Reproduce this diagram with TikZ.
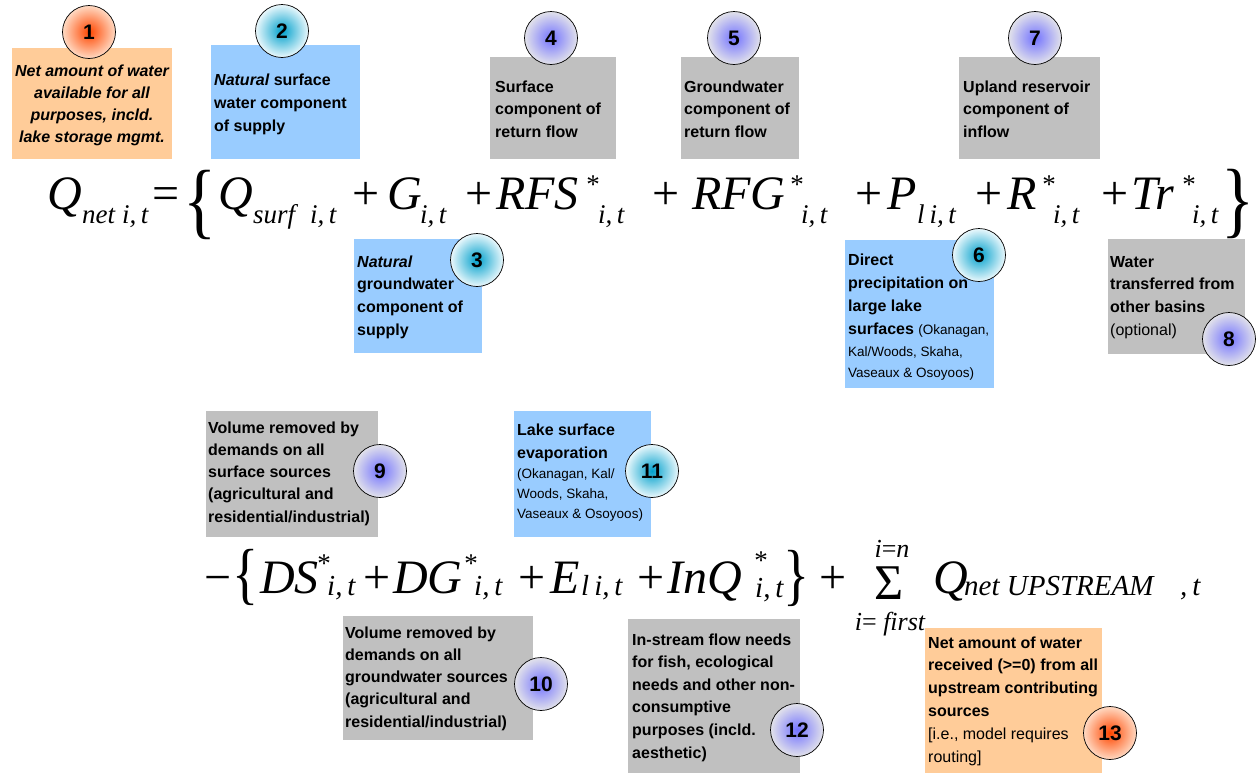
\documentclass[tikz,border=0pt]{standalone}
\usepackage{fontspec}
\setmainfont{Liberation Sans}
\newfontfamily\tms{Liberation Serif}
\definecolor{bgray}{RGB}{192,192,192}
\definecolor{bblue}{RGB}{153,204,255}
\definecolor{borange}{RGB}{255,204,153}
\definecolor{orin}{RGB}{255,70,0}
\definecolor{orout}{RGB}{255,218,195}
\definecolor{cyin}{RGB}{0,160,204}
\definecolor{cyout}{RGB}{235,248,252}
\definecolor{puin}{RGB}{115,115,255}
\definecolor{puout}{RGB}{226,226,234}
\newcommand\smr{\mdseries\fontsize{13.5}{16}\selectfont}
\newcommand\bx[6]{\node[boxn, fill=#2, minimum width={#5-#3}, minimum height={#6-#4}] (#1) at (#3,#4) {};}
\tikzset{
 boxn/.style={draw=none, inner sep=0, outer sep=0, anchor=north west},
 num/.style={circle, draw=black, line width=0.7pt, minimum size=53, inner sep=0, font=\bfseries\fontsize{21}{21}\selectfont},
 orc/.style={num, inner color=orin, outer color=orout},
 cyc/.style={num, inner color=cyin, outer color=cyout},
 puc/.style={num, inner color=puin, outer color=puout},
 bt/.style={font=\bfseries\fontsize{16}{19}\selectfont, inner sep=0, anchor=base west},
 bti/.style={font=\bfseries\itshape\fontsize{16}{19}\selectfont, inner sep=0, anchor=base},
 eqi/.style={font=\tms\itshape\fontsize{48}{48}\selectfont, inner sep=0, anchor=base west},
 eqr/.style={font=\tms\fontsize{48}{48}\selectfont, inner sep=0, anchor=base west},
 sbi/.style={font=\tms\itshape\fontsize{27}{27}\selectfont, inner sep=0, anchor=base west},
 sbj/.style={font=\tms\itshape\fontsize{29}{29}\selectfont, inner sep=0, anchor=base west},
 st/.style={font=\tms\fontsize{27}{27}\selectfont, inner sep=0, anchor=base},
 brc/.style={font=\tms\fontsize{84}{84}\selectfont, inner sep=0, anchor=center},
 brcb/.style={font=\tms\fontsize{68}{68}\selectfont, inner sep=0, anchor=center},
 sig/.style={font=\tms\fontsize{50}{50}\selectfont, inner sep=0, anchor=center},
 lim/.style={font=\tms\fontsize{26}{26}\selectfont, inner sep=0, anchor=center},
}
\begin{document}
\begin{tikzpicture}[x=1pt,y=-1pt]
\useasboundingbox (0,0) rectangle (1257,774);
\fill[white] (0,0) rectangle (1257,774);
% boxes
\bx{b1}{borange}{12}{48}{172}{159}
\bx{b2}{bblue}{211}{45}{360}{159}
\bx{b4}{bgray}{490}{57}{616}{159}
\bx{b5}{bgray}{681}{57}{799}{159}
\bx{b7}{bgray}{959}{57}{1100}{159}
\bx{b3}{bblue}{354}{239}{482}{353}
\bx{b6}{bblue}{845}{240}{994}{388}
\bx{b8}{bgray}{1108}{239}{1245}{354}
\bx{b9}{bgray}{206}{411}{378}{537}
\bx{b11}{bblue}{514}{411}{651}{537}
\bx{b10}{bgray}{343}{616}{533}{740}
\bx{b12}{bgray}{628}{619}{800}{773}
\bx{b13}{borange}{925}{628}{1102}{773}
% box texts
\foreach \t [count=\i] in {Net amount of water, available for all, {purposes, incld.}, lake storage mgmt.}
  \node[bti] (t1-\i) at (92,{76+22*(\i-1)}) {\t};
\foreach \t [count=\i] in {{\itshape Natural} surface, water component, of supply}
  \node[bt] (t2-\i) at (214,{85+23*(\i-1)}) {\t};
\foreach \t [count=\i] in {Surface, component of, return flow}
  \node[bt] (t4-\i) at (495,{92+22.5*(\i-1)}) {\t};
\foreach \t [count=\i] in {Groundwater, component of, return flow}
  \node[bt] (t5-\i) at (684,{92+22.5*(\i-1)}) {\t};
\foreach \t [count=\i] in {Upland reservoir, component of, inflow}
  \node[bt] (t7-\i) at (963,{92+22.5*(\i-1)}) {\t};
\foreach \t [count=\i] in {{\itshape Natural}, groundwater, component of, supply}
  \node[bt] (t3-\i) at (357,{267+22.7*(\i-1)}) {\t};
\node[bt] (t6-1) at (848,265) {Direct};
\node[bt] (t6-2) at (848,288) {precipitation on};
\node[bt] (t6-3) at (848,311) {large lake};
\node[bt] (t6-4) at (848,334) {surfaces {\smr(Okanagan,}};
\node[bt] (t6-5) at (848,356) {\smr Kal/Woods, Skaha,};
\node[bt] (t6-6) at (848,377) {\smr Vaseaux \& Osoyoos)};
\foreach \t [count=\i] in {Water, transferred from, other basins, {\mdseries (optional)}}
  \node[bt] (t8-\i) at (1110,{267+22.7*(\i-1)}) {\t};
\foreach \t [count=\i] in {Volume removed by, demands on all, surface sources, {\relax(agricultural and}, residential/industrial)}
  \node[bt] (t9-\i) at (208,{433+22.3*(\i-1)}) {\t};
\node[bt] (t11-1) at (517,435) {Lake surface};
\node[bt] (t11-2) at (517,458) {evaporation};
\node[bt] (t11-3) at (517,478) {\smr (Okanagan, Kal/};
\node[bt] (t11-4) at (517,498) {\smr Woods, Skaha,};
\node[bt] (t11-5) at (517,518) {\smr Vaseaux \& Osoyoos)};
\foreach \t [count=\i] in {Volume removed by, demands on all, groundwater sources, {\relax(agricultural and}, residential/industrial)}
  \node[bt] (t10-\i) at (345,{638+22.3*(\i-1)}) {\t};
\foreach \t [count=\i] in {In-stream flow needs, {for fish, ecological}, needs and other non-, consumptive, purposes (incld., aesthetic)}
  \node[bt] (t12-\i) at (632,{645+22.6*(\i-1)}) {\t};
\foreach \t [count=\i] in {Net amount of water, received (>=0) from all, upstream contributing, sources, {\mdseries [i.e., model requires}, {\mdseries routing]}}
  \node[bt] (t13-\i) at (928,{648+22.8*(\i-1)}) {\t};
% circles
\node[orc] (c1) at (89,32) {1};
\node[cyc] (c2) at (282,31) {2};
\node[puc] (c4) at (551,38) {4};
\node[puc] (c5) at (734,38) {5};
\node[puc] (c7) at (1035,38) {7};
\node[cyc] (c3) at (477,260) {3};
\node[cyc] (c6) at (979,255) {6};
\node[puc] (c8) at (1229,339) {8};
\node[puc] (c9) at (380,471) {9};
\node[cyc] (c11) at (652,471) {11};
\node[puc] (c10) at (541,684) {10};
\node[puc] (c12) at (797,730) {12};
\node[orc] (c13) at (1110,733) {13};
% equation line 1
\def\Ba{209}\def\Sa{223}\def\Ta{193}
\node[eqi] (a1) at (47,\Ba) {Q};
\node[sbi] (a2) at (82,\Sa) {net};
\node[sbi] (a3) at (122,\Sa) {i,\,t};
\node[eqr] (a4) at (152,\Ba) {=};
\node[brc] (a5) at (200,205) {\scalebox{0.82}[1]{\{}};
\node[eqi] (a6) at (218,\Ba) {Q};
\node[sbi] (a7) at (253,\Sa) {surf};
\node[sbi] (a8) at (310,\Sa) {i,\,t};
\node[eqr] (a9) at (352,\Ba) {+};
\node[eqi] (a10) at (387,\Ba) {G};
\node[sbi] (a11) at (420,\Sa) {i,\,t};
\node[eqr] (a12) at (465,\Ba) {+};
\node[eqi] (a13) at (496,\Ba) {RFS};
\node[st] (a14) at (593,\Ta) {*};
\node[sbi] (a15) at (598,\Sa) {i,\,t};
\node[eqr] (a16) at (652,\Ba) {+};
\node[eqi] (a17) at (692,\Ba) {RFG};
\node[st] (a18) at (797,\Ta) {*};
\node[sbi] (a19) at (801,\Sa) {i,\,t};
\node[eqr] (a20) at (855,\Ba) {+};
\node[eqi] (a21) at (887,\Ba) {P};
\node[sbi] (a22) at (917,\Sa) {l\hspace{5pt}i,\,t};
\node[eqr] (a23) at (975,\Ba) {+};
\node[eqi] (a24) at (1007,\Ba) {R};
\node[st] (a25) at (1049,\Ta) {*};
\node[sbi] (a26) at (1053,\Sa) {i,\,t};
\node[eqr] (a27) at (1101,\Ba) {+};
\node[eqi] (a28) at (1131,\Ba) {Tr};
\node[st] (a29) at (1189,\Ta) {*};
\node[sbi] (a30) at (1192,\Sa) {i,\,t};
\node[brc] (a31) at (1238,204) {\scalebox{0.82}[1]{\}}};
% equation line 2
\def\Bb{593}\def\Sb{595}\def\Tb{572}
\node[eqr] (e1) at (204,\Bb) {−};
\node[brcb] (e2) at (246,577) {\scalebox{0.8}[1]{\{}};
\node[eqi] (e3) at (260,\Bb) {DS};
\node[st] (e4) at (324,\Tb) {*};
\node[sbj] (e5) at (327,\Sb) {i,\,t};
\node[eqr] (e6) at (363,\Bb) {+};
\node[eqi] (e7) at (393,\Bb) {DG};
\node[st] (e8) at (471,\Tb) {*};
\node[sbj] (e9) at (474,\Sb) {i,\,t};
\node[eqr] (e10) at (518,\Bb) {+};
\node[eqi] (e11) at (550,\Bb) {E};
\node[sbj] (e12) at (581,\Sb) {l\hspace{5pt}i,\,t};
\node[eqr] (e13) at (637,\Bb) {+};
\node[eqi] (e14) at (667,\Bb) {InQ};
\node[st] (e15) at (761,569) {*};
\node[sbj] (e16) at (755,597) {i,\,t};
\node[brcb] (e17) at (797,578) {\scalebox{0.8}[1]{\}}};
\node[eqr] (e18) at (819,\Bb) {+};
\node[sig] (e19) at (889,583) {Σ};
\node[lim] (e20) at (892,549) {{\itshape i}={\itshape n}};
\node[lim] (e21) at (890,624) {{\itshape i}= {\itshape first}};
\node[eqi] (e22) at (933,\Bb) {Q};
\node[sbj] (e23) at (964,\Sb) {net UPSTREAM};
\node[sbj] (e24) at (1180,\Sb) {,\,t};
\end{tikzpicture}
\end{document}
